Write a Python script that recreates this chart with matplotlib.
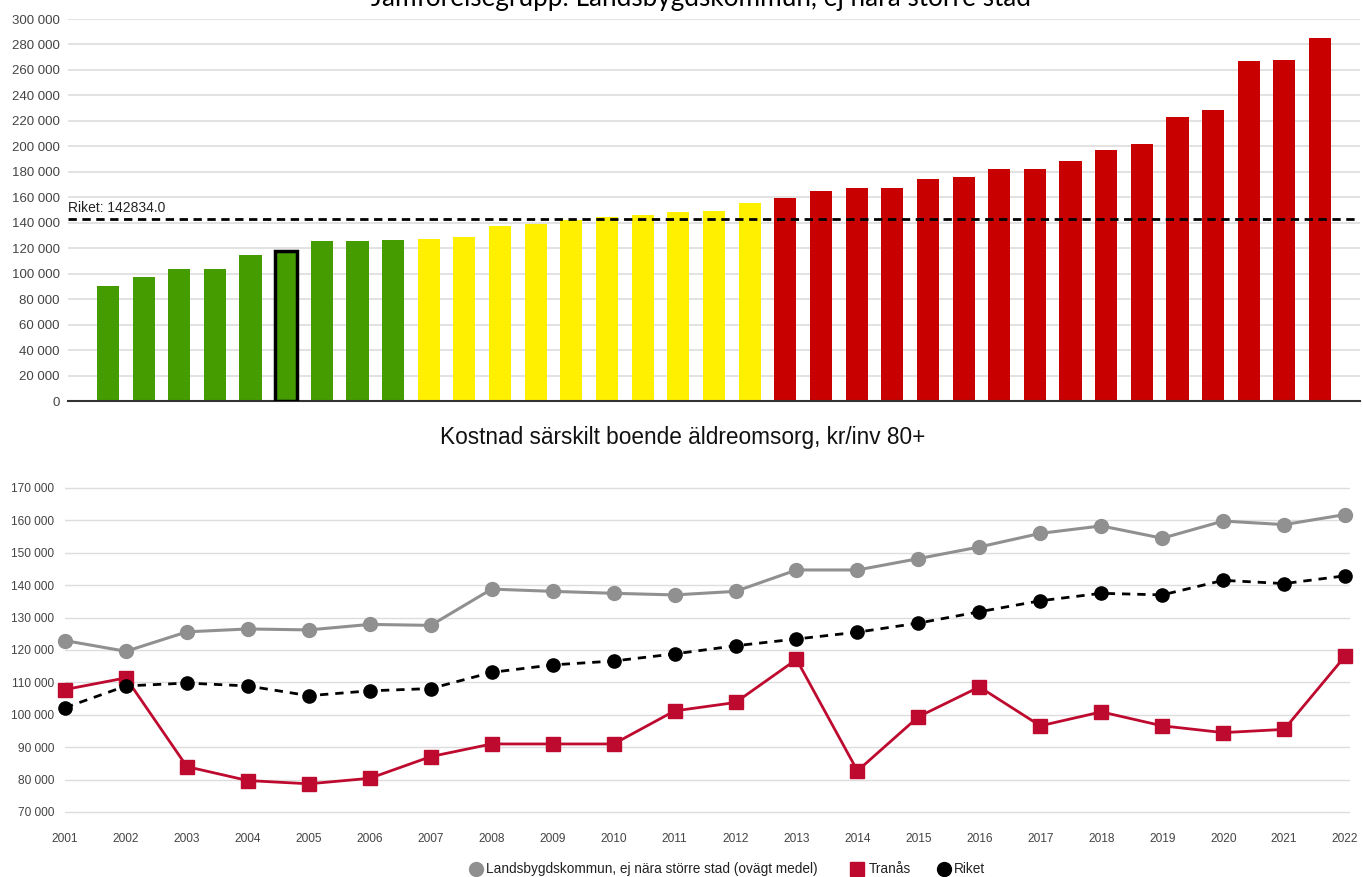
import matplotlib
matplotlib.use("Agg")
import matplotlib.pyplot as plt
import numpy as np

plt.rcParams['font.family'] = ['Liberation Sans', 'DejaVu Sans']

# top chart: sorted municipalities, kr/inv 80+
bar_values = [90600, 97100, 103900, 103900, 114900, 118000, 125400, 125400, 126400,
              127200, 129100, 137400, 138700, 142100, 144200, 145800, 148200, 149000, 155500,
              159200, 164700, 167500, 167500, 174100, 176200, 182500, 182500, 188200,
              197400, 201600, 222800, 228500, 266800, 267800, 284800]
bar_groups = ['green'] * 9 + ['yellow'] * 10 + ['red'] * 16
highlight = 5  # Tranås
riket_value = 142834.0

top_title = "Jämförelsegrupp: Landsbygdskommun, ej nära större stad"
bottom_title = "Kostnad särskilt boende äldreomsorg, kr/inv 80+"

# bottom chart: time series
years = list(range(2001, 2023))
landsbygd = [122900, 119600, 125600, 126500, 126200, 127900, 127600, 138800, 138100, 137500,
             137000, 138100, 144700, 144700, 148200, 151800, 156000, 158300, 154500, 159800,
             158700, 161800]
tranas = [107800, 111400, 84000, 79700, 78700, 80400, 87100, 91000, 91000, 91000,
          101200, 103800, 117100, 82700, 99400, 108600, 96600, 100900, 96600, 94500,
          95500, 118100]
riket = [102200, 108900, 109800, 108900, 105900, 107400, 108100, 113100, 115400, 116600,
         118800, 121300, 123400, 125500, 128300, 131800, 135200, 137500, 137000, 141500,
         140500, 142900]
legend_labels = ['Landsbygdskommun, ej nära större stad (ovägt medel)', 'Tranås', 'Riket']

colors = {'green': '#449c00', 'yellow': '#fff000', 'red': '#c80000'}
c_gray, c_red, c_black = '#909090', '#be0a2f', 'black'

def fmt(v):
    return '{:,}'.format(int(v)).replace(',', ' ')

W, H = 1363, 877
fig = plt.figure(figsize=(W / 100, H / 100), dpi=100)

# ---- top bars
ax1 = fig.add_axes([68 / W, 1 - 401 / H, (1360 - 68) / W, 382 / H])
x = np.arange(len(bar_values))
ax1.bar(x, bar_values, width=0.62, color=[colors[g] for g in bar_groups], zorder=2)
ax1.bar(x[highlight], bar_values[highlight], width=0.62, color=colors['green'],
        edgecolor='black', linewidth=2.5, zorder=3)
ax1.axhline(riket_value, color='black', linestyle=(0, (3, 2)), linewidth=2, zorder=4)
ax1.text(0, riket_value + 3500, 'Riket: %.1f' % riket_value, transform=ax1.get_yaxis_transform(),
         fontsize=10, color='#222222', va='bottom', ha='left')
ax1.set_xlim(-1.12, 35.12)
ax1.set_ylim(0, 300000)
ax1.set_yticks(range(0, 300001, 20000))
ax1.set_yticklabels([fmt(v) for v in range(0, 300001, 20000)], fontsize=9.5, color='#444444')
ax1.set_xticks([])
ax1.grid(axis='y', color='#dddddd', linewidth=1.2, zorder=0)
ax1.tick_params(axis='y', length=0, pad=6)
for s in ['top', 'right', 'left']:
    ax1.spines[s].set_visible(False)
ax1.spines['bottom'].set_color('#333333')
ax1.spines['bottom'].set_linewidth(1.5)
fig.text(701 / W, 1 - 6 / H, top_title, ha='center', va='baseline', fontsize=18.8,
         family=['Lato', 'DejaVu Sans'], color='black')

# ---- bottom lines
ax2 = fig.add_axes([65 / W, 1 - 815.24 / H, (1350 - 65) / W, 330.48 / H])
ax2.plot(years, landsbygd, color=c_gray, linewidth=2.2, marker='o', markersize=10,
         clip_on=False, zorder=3)
ax2.plot(years, tranas, color=c_red, linewidth=2, marker='s', markersize=10,
         clip_on=False, zorder=4)
ax2.plot(years, riket, color=c_black, linewidth=2, linestyle=(0, (3, 2.5)), marker='o',
         markersize=9.5, clip_on=False, zorder=5)
ax2.set_xlim(2001, 2022.08)
ax2.set_ylim(69000, 171000)
ax2.set_yticks(range(70000, 170001, 10000))
ax2.set_yticklabels([fmt(v) for v in range(70000, 170001, 10000)], fontsize=8.6, color='#444444')
ax2.set_xticks(years)
ax2.set_xticklabels([str(y) for y in years], fontsize=8.6, color='#444444')
ax2.tick_params(axis='y', length=0, pad=8)
ax2.tick_params(axis='x', length=0, pad=13)
ax2.grid(axis='y', color='#dddddd', linewidth=1)
for s in ax2.spines.values():
    s.set_visible(False)
fig.text(683 / W, 1 - 437 / H, bottom_title, ha='center', va='center', fontsize=16.3,
         color='#111111')

# legend, placed by hand in pixel space
lg = fig.add_axes([0, 0, 1, 1], facecolor='none')
lg.set_xlim(0, W)
lg.set_ylim(H, 0)
lg.axis('off')
ly = 869
for mx, tx, mk, col, lab in [(476, 486, 'o', c_gray, legend_labels[0]),
                              (857, 869, 's', c_red, legend_labels[1]),
                              (944, 954, 'o', c_black, legend_labels[2])]:
    lg.plot([mx], [ly], marker=mk, color=col, markersize=10, linestyle='')
    lg.text(tx, ly, lab, fontsize=9.8, color='#222222', va='center', ha='left')

fig.savefig('out.png', dpi=100)
